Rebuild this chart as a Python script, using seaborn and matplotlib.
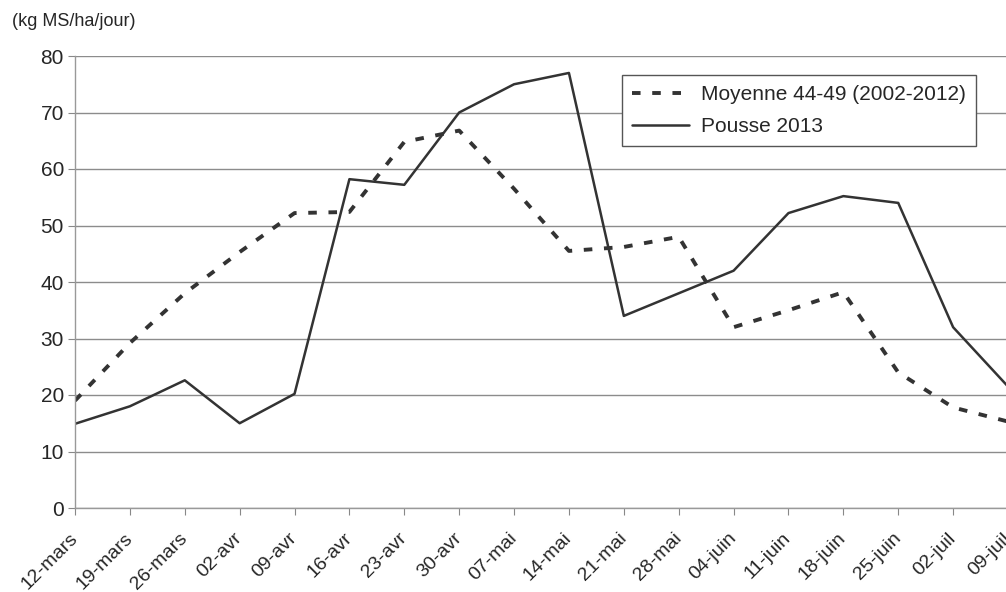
import pandas as pd
import numpy as np
import seaborn as sns
import matplotlib.pyplot as plt
import matplotlib.transforms as mtransforms

# data
dates = ["12-mars", "19-mars", "26-mars", "02-avr", "09-avr", "16-avr", "23-avr", "30-avr",
         "07-mai", "14-mai", "21-mai", "28-mai", "04-juin", "11-juin", "18-juin", "25-juin",
         "02-juil", "09-juil"]
moyenne = [19, 29.2, 38, 45.3, 52.2, 52.4, 64.8, 66.8, 56.5, 45.5, 46.2, 48, 32, 35, 38.2, 24, 17.8, 15.3]
pousse = [14.9, 18, 22.6, 15, 20.2, 58.2, 57.2, 70, 75, 77, 34, 38, 42, 52.2, 55.2, 54, 32, 21.5]

df = pd.DataFrame({"x": np.arange(len(dates)), "Moyenne 44-49 (2002-2012)": moyenne, "Pousse 2013": pousse})

sns.set_style("white")
plt.rcParams['font.family'] = ['Liberation Sans', 'DejaVu Sans']

fig = plt.figure(figsize=(10.06, 5.92), dpi=100)
ax = fig.add_axes([75/1006, 1-508/592, 933/1006, 452/592])

sns.lineplot(data=df, x="x", y="Moyenne 44-49 (2002-2012)", ax=ax, color="#333333",
             lw=2.8, dashes=False, label="Moyenne 44-49 (2002-2012)")
ax.lines[-1].set_dashes((2.2, 3.0))
sns.lineplot(data=df, x="x", y="Pousse 2013", ax=ax, color="#333333", lw=1.8, label="Pousse 2013")

ax.set_xlim(0, 17)
ax.set_ylim(0, 80)
ax.set_yticks(range(0, 81, 10))
ax.set_xticks(df["x"])
ax.set_xticklabels(dates, rotation=45, ha="right", va="center", rotation_mode="anchor", fontsize=14)
shift = mtransforms.ScaledTranslation(-4/100, 0, fig.dpi_scale_trans)
for lab in ax.get_xticklabels():
    lab.set_transform(lab.get_transform() + shift)
ax.tick_params(axis="y", labelsize=15, length=5, color="#888888", pad=3)
ax.tick_params(axis="x", length=5, color="#888888", pad=15, bottom=True)
ax.tick_params(axis="y", left=True)
ax.set_xlabel("")
ax.set_ylabel("")
ax.yaxis.grid(True, color="#8c8c8c", lw=1)
ax.set_axisbelow(True)
for s in ["top", "right"]:
    ax.spines[s].set_visible(False)
for s in ["left", "bottom"]:
    ax.spines[s].set_color("#999999")
    ax.spines[s].set_linewidth(1)

leg = ax.legend(loc="upper left", bbox_to_anchor=(622/1006, 1-75/592), bbox_transform=fig.transFigure,
                fontsize=15, fancybox=False, frameon=True, handlelength=2.7, handletextpad=0.6,
                borderpad=0.5, labelspacing=0.6, borderaxespad=0)
leg.get_frame().set_edgecolor("#555555")
leg.get_frame().set_linewidth(1)
leg.get_frame().set_alpha(1)

fig.text(12/1006, 1-22/592, "(kg MS/ha/jour)", fontsize=13, va="center", ha="left")

fig.savefig("out.png", dpi=100)
